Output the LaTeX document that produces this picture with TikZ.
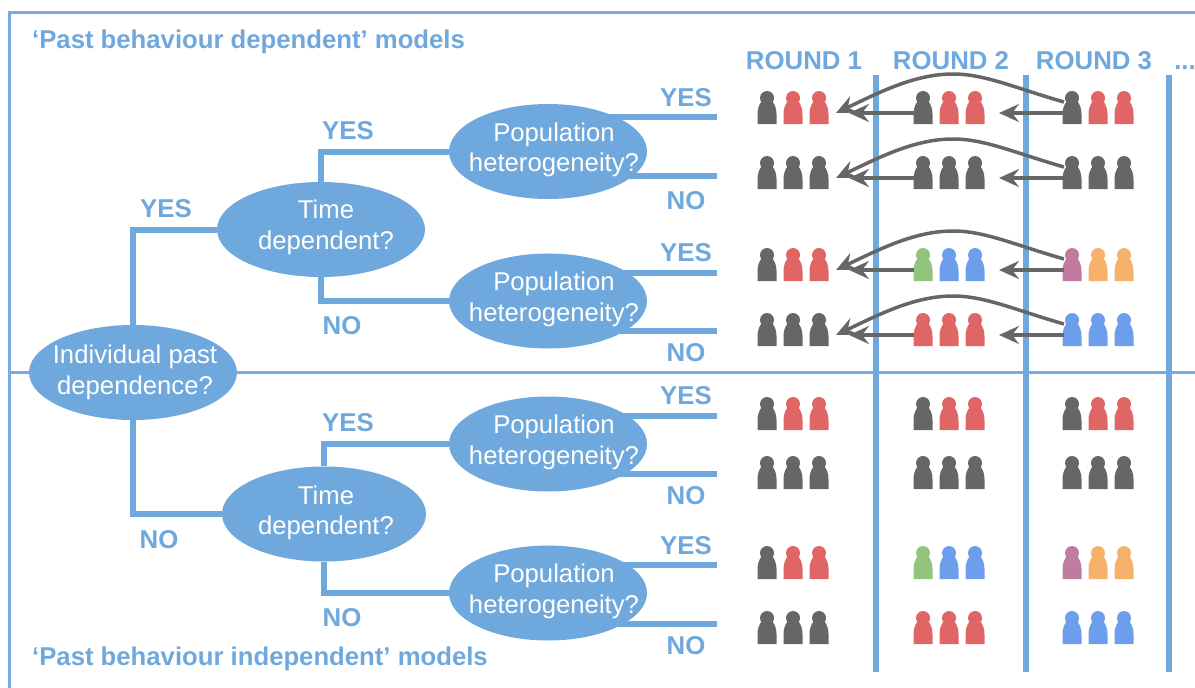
\documentclass[tikz,border=0pt]{standalone}
\usepackage{fontspec}
\setmainfont{Liberation Sans}
\usetikzlibrary{arrows.meta,backgrounds,shapes.geometric}
\definecolor{lineblue}{HTML}{6FA8DC}
\definecolor{frameblue}{HTML}{7BA9E6}
\definecolor{pdark}{HTML}{666666}
\definecolor{pred}{HTML}{E06666}
\definecolor{pgreen}{HTML}{93C47D}
\definecolor{pblue}{HTML}{6D9EEB}
\definecolor{ppurple}{HTML}{C27BA0}
\definecolor{porange}{HTML}{F6B26B}
\tikzset{
  question/.style={ellipse,fill=lineblue,inner sep=0pt,
    minimum width=#1,minimum height=95pt},
  question/.default=198pt,
  asktext/.style={text=white,align=center,inner sep=0pt,font=\fontsize{25.7}{30.6}\selectfont},
  answer/.style={text=lineblue,font=\bfseries\fontsize{25.8}{28}\selectfont,inner sep=0pt},
  heading/.style={text=lineblue,font=\bfseries\fontsize{25.7}{28}\selectfont,inner sep=0pt,anchor=west},
  branch/.style={draw=lineblue,line width=6pt},
  frameline/.style={draw=frameblue,line width=3pt},
  roundline/.style={draw=lineblue,line width=6pt},
  back/.style={draw=pdark,line width=3.5pt,
    -{Stealth[length=20pt,width=18pt,inset=7pt]}},
  pics/person/.style={code={
    \fill[#1] (-9.5,0) -- (-9.5,-10) .. controls (-9.5,-16) and (-7.5,-20) .. (-5,-23)
      -- (5,-23) .. controls (7.5,-20) and (9.5,-16) .. (9.5,-10) -- (9.5,0) -- cycle;
    \fill[#1] (0,-26) circle (7pt);
  }}
}
\begin{document}
\begin{tikzpicture}[x=1pt,y=-1pt]
  \useasboundingbox (0,0) rectangle (1195,688);

  % frame
  \coordinate (fsw) at (9,688);
  \coordinate (fnw) at (9,12);
  \coordinate (fne) at (1195,12);
  \coordinate (fmw) at (9,372);
  \coordinate (fme) at (1195,372);
  \draw[frameline] (fsw) -- (fnw) -- (fne);
  \draw[frameline] (fmw) -- (fme);

  % questions
  \node[question=208pt,label={[asktext,xshift=2pt]center:{Individual past\\dependence?}}] (root) at (133,372.5) {};
  \node[question=208pt,label={[asktext,xshift=5pt,yshift=2pt]center:{Time\\dependent?}}] (timeA) at (321,229.5) {};
  \node[question=204pt,label={[asktext,xshift=2pt,yshift=1pt]center:{Time\\dependent?}}] (timeB) at (324,514) {};
  \node[question,label={[asktext,xshift=6pt,yshift=1.5pt]center:{Population\\heterogeneity?}}] (popA) at (548,151.5) {};
  \node[question,label={[asktext,xshift=6pt,yshift=1.5pt]center:{Population\\heterogeneity?}}] (popB) at (548,301) {};
  \node[question,label={[asktext,xshift=6pt,yshift=1.5pt]center:{Population\\heterogeneity?}}] (popC) at (548,444) {};
  \node[question,label={[asktext,xshift=6pt,yshift=1.5pt]center:{Population\\heterogeneity?}}] (popD) at (548,593) {};

  % branches
  \begin{pgfonlayer}{background}
    \draw[branch] (root.north) |- (timeA.west);
    \draw[branch] (root.south) |- (timeB.west);
    \draw[branch] (timeA.north) |- (popA.west);
    \draw[branch] (timeA.south) |- (popB.west);
    \draw[branch] (timeB.north) |- (popC.west);
    \draw[branch] (timeB.south) |- (popD.west);
    \foreach \p/\yes/\no in {popA/117/176,popB/273/331,popC/416/474,popD/565/624}{
      \coordinate (\p y) at (717,\yes);
      \coordinate (\p n) at (717,\no);
      \draw[branch] (\p y) -- (\p y -| \p.center);
      \draw[branch] (\p n) -- (\p n -| \p.center);
    }
  \end{pgfonlayer}

  % round separators
  \foreach \x/\n in {876/a,1025.5/b,1168.5/c}{
    \coordinate (\n top) at (\x,75);
    \coordinate (\n bot) at (\x,672);
    \draw[roundline] (\n top) -- (\n bot);
  }

  % labels
  \node[heading] (titleA) at (32,42) {‘Past behaviour dependent’ models};
  \node[heading] (titleB) at (32,659) {‘Past behaviour independent’ models};
  \node[answer] (roundA) at (804,60.5) {ROUND 1};
  \node[answer] (roundB) at (951,60.5) {ROUND 2};
  \node[answer] (roundC) at (1094,60.5) {ROUND 3};
  \node[answer,anchor=base] (roundD) at (1185,69) {...};
  \foreach \x/\y [count=\i] in {686/97.5,348/130.5,166/208.5,686/252.5,686/395.5,348/422.5,686/545.5}
    \node[answer] (yes\i) at (\x,\y) {YES};
  \foreach \x/\y [count=\i] in {686/200.5,342/325.5,686/352.5,159/539.5,686/495.5,342/617.5,686/645.5}
    \node[answer] (no\i) at (\x,\y) {NO};

  % people
  \foreach \b/\ca/\cb/\cc/\da/\db/\dc/\ea/\eb/\ec in {
    124/pdark/pred/pred/pdark/pred/pred/pdark/pred/pred,
    189/pdark/pdark/pdark/pdark/pdark/pdark/pdark/pdark/pdark,
    281/pdark/pred/pred/pgreen/pblue/pblue/ppurple/porange/porange,
    346/pdark/pdark/pdark/pred/pred/pred/pblue/pblue/pblue,
    430/pdark/pred/pred/pdark/pred/pred/pdark/pred/pred,
    489/pdark/pdark/pdark/pdark/pdark/pdark/pdark/pdark/pdark,
    579/pdark/pred/pred/pgreen/pblue/pblue/ppurple/porange/porange,
    644/pdark/pdark/pdark/pred/pred/pred/pblue/pblue/pblue}{
    \pic at (767,\b) {person=\ca};
    \pic at (793,\b) {person=\cb};
    \pic at (819,\b) {person=\cc};
    \pic at (923,\b) {person=\da};
    \pic at (949,\b) {person=\db};
    \pic at (975,\b) {person=\dc};
    \pic at (1072,\b) {person=\ea};
    \pic at (1098,\b) {person=\eb};
    \pic at (1124,\b) {person=\ec};
  }

  % arrows back to earlier rounds
  \foreach \b in {124,189,281,346}{
    \coordinate (tipA) at (836,\b-11);
    \coordinate (tipB) at (849,\b-11);
    \coordinate (tipC) at (999,\b-11);
    \coordinate (fromB) at (914,\b-11);
    \coordinate (fromC) at (1064,\b-11);
    \coordinate (fromD) at (1064,\b-22);
    \coordinate (peak) at (953,\b-50);
    \draw[back] (fromB) -- (tipB);
    \draw[back] (fromC) -- (tipC);
    \draw[back] (fromD) .. controls (1015,\b-36) and (985,\b-50) .. (peak)
      .. controls (915,\b-50) and (880,\b-32) .. (tipA);
  }
\end{tikzpicture}
\end{document}
